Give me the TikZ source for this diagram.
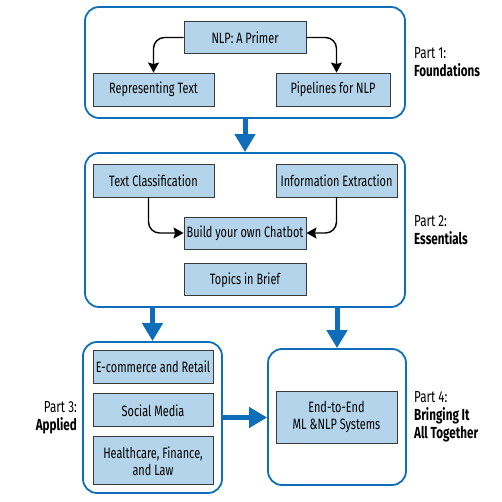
\documentclass[tikz,border=0pt]{standalone}
\usepackage{fontspec}
\setmainfont{Fira Sans}[FakeStretch=0.73]
\usepackage{tikz}
\usetikzlibrary{arrows.meta,positioning}
\definecolor{partblue}{HTML}{0F6EB9}
\definecolor{boxfill}{HTML}{B3D4EA}
\definecolor{boxedge}{HTML}{3A3A3A}

\begin{document}
\begin{tikzpicture}[
    x=1pt, y=-1pt,
    partbox/.style={rectangle, rounded corners=14pt, draw=partblue, line width=1.8pt},
    topic/.style={rectangle, draw=boxedge, fill=boxfill, line width=0.9pt, minimum width=121pt, minimum height=33pt, inner sep=2pt, align=center, font=\fontsize{15}{17}\selectfont},
    partlabel/.style={align=left, inner sep=0pt, font=\fontsize{16}{18}\selectfont},
    link/.style={-{Stealth[width=11pt,length=10pt,inset=1.5pt]}, line width=1.4pt, rounded corners=11pt},
    flow/.style={-{Triangle[width=20pt,length=18pt]}, draw=partblue, line width=5pt}
]
\useasboundingbox (0,0) rectangle (502,502);

% Part 1
\node[partbox, minimum width=320pt, minimum height=111pt] (p1) at (245,62.5) {};
\node[topic, minimum height=32pt, minimum width=122pt] (primer) at (245,37.5) {NLP: A Primer};
\node[topic] (repr) at (153.5,89.5) {Representing Text};
\node[topic, minimum width=114pt] (pipe) at (333,89.5) {Pipelines for NLP};
\node[partlabel, right=8pt of p1] (lab1) {Part 1:\\\textbf{Foundations}};

% Part 2
\node[partbox, minimum width=320pt, minimum height=154pt] (p2) at (245,230) {};
\node[topic] (textcls) at (153.5,180.5) {Text Classification};
\node[topic] (infoext) at (336.5,180.5) {Information Extraction};
\node[topic, minimum height=32pt, minimum width=122pt] (chatbot) at (245,233) {Build your own Chatbot};
\node[topic, minimum height=32pt, minimum width=122pt, below=14pt of chatbot] (topics) {Topics in Brief};
\node[partlabel, right=8pt of p2] (lab2) {Part 2:\\\textbf{Essentials}};

% Part 3
\node[partbox, minimum width=139pt, minimum height=151pt] (p3) at (152.5,417.5) {};
\node[topic, minimum width=120pt] (ecom) at (153,366.5) {E-commerce and Retail};
\node[topic, minimum width=120pt, below=10pt of ecom] (social) {Social Media};
\node[topic, minimum width=120pt, minimum height=48pt, below=9pt of social] (health) {Healthcare, Finance,\\and Law};
\node[partlabel, align=right, left=5pt of p3] (lab3) {Part 3:\\\textbf{Applied}};

% Part 4
\node[partbox, minimum width=138pt, minimum height=136pt] (p4) at (337,417) {};
\node[topic, minimum height=52pt] (e2e) at (336.5,417) {End-to-End\\ML \&NLP Systems};
\node[partlabel, right=7pt of p4] (lab4) {Part 4:\\\textbf{Bringing It}\\\textbf{All Together}};

% Arrows inside the parts
\draw[link] (primer.west) -| (repr.north);
\draw[link] (primer.east) -| ([xshift=3.5pt]pipe.north);
\draw[link] ([xshift=-5pt]textcls.south) |- (chatbot.west);
\draw[link] (infoext.south) |- (chatbot.east);

% Arrows between the parts
\draw[flow] (p1) -- (p2);
\draw[flow] (p2.south -| p3.north) -- (p3.north);
\draw[flow] (p2.south -| p4.north) -- (p4.north);
\draw[flow] (p3.east) -- (p3.east -| p4.west);

\end{tikzpicture}
\end{document}
